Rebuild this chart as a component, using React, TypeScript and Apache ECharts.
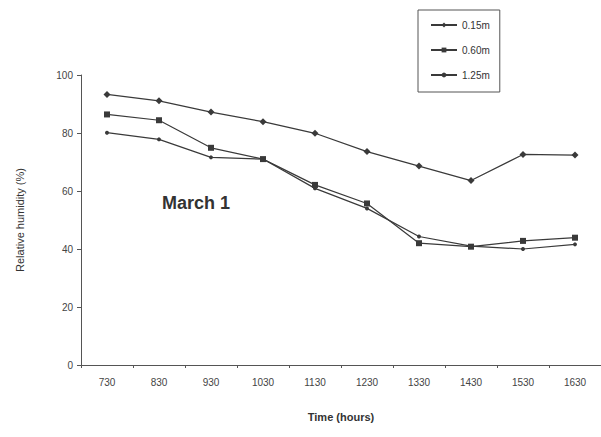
import React, { useEffect, useRef } from "react";
import * as echarts from "echarts";

const categories = ["730", "830", "930", "1030", "1130", "1230", "1330", "1430", "1530", "1630"];
const seriesNames = ["0.15m", "0.60m", "1.25m"];
const rh015 = [93.3, 91.1, 87.2, 83.9, 79.9, 73.6, 68.6, 63.6, 72.6, 72.4];
const rh060 = [86.4, 84.4, 74.9, 71.0, 62.1, 55.7, 42.0, 40.8, 42.8, 43.9];
const rh125 = [80.1, 77.8, 71.6, 71.0, 60.9, 54.0, 44.3, 41.0, 40.0, 41.6];
const yTicks = [0, 20, 40, 60, 80, 100];

export default function App() {
  const ref = useRef<HTMLDivElement>(null);
  useEffect(() => {
    if (!ref.current) return;
    const chart = echarts.init(ref.current, null, { renderer: "svg" });
    const lineColor = "#3a3a3a";
    const font = "Liberation Sans, Arial, sans-serif";
    const mk = (name: string, data: number[], symbol: string, size: number) => ({
      name,
      type: "line",
      data,
      symbol,
      symbolSize: size,
      showSymbol: true,
      lineStyle: { color: lineColor, width: 1.2 },
      itemStyle: { color: lineColor },
      z: 3,
    });
    chart.setOption({
      animation: false,
      backgroundColor: "#ffffff",
      textStyle: { fontFamily: font },
      grid: { left: 81, right: -5, top: 75, bottom: 72, containLabel: false },
      legend: {
        orient: "vertical",
        left: 418,
        top: 10,
        data: seriesNames,
        borderColor: "#555",
        borderWidth: 1,
        padding: [10, 10, 12, 12],
        itemGap: 15,
        itemWidth: 26,
        itemHeight: 6,
        textStyle: { fontSize: 10, color: "#333", fontFamily: font },
      },
      xAxis: {
        type: "category",
        data: categories,
        boundaryGap: true,
        name: "Time (hours)",
        nameLocation: "middle",
        nameGap: 46,
        nameTextStyle: { fontSize: 11, fontWeight: "bold", color: "#333", fontFamily: font },
        axisLine: { lineStyle: { color: "#555", width: 1 } },
        axisTick: { show: true, length: 3, lineStyle: { color: "#555" } },
        axisLabel: { fontSize: 10, color: "#444", margin: 12, fontFamily: font },
      },
      yAxis: {
        type: "value",
        min: 0,
        max: 100,
        interval: 20,
        name: "Relative humidity (%)",
        nameLocation: "middle",
        nameGap: 56,
        nameRotate: 90,
        nameTextStyle: { fontSize: 11, color: "#333", fontFamily: font },
        axisLine: { show: true, lineStyle: { color: "#555", width: 1 } },
        axisTick: { show: true, length: 4, lineStyle: { color: "#555" } },
        axisLabel: {
          fontSize: 10,
          color: "#444",
          margin: 8,
          fontFamily: font,
          formatter: (v: number) => (yTicks.includes(v) ? String(v) : ""),
        },
        splitLine: { show: false },
      },
      series: [
        mk(seriesNames[0], rh015, "diamond", 7),
        mk(seriesNames[1], rh060, "rect", 6),
        mk(seriesNames[2], rh125, "circle", 4),
      ],
      graphic: [
        {
          type: "text",
          left: 162,
          top: 194,
          style: {
            text: "March 1",
            fontSize: 18,
            fontWeight: "bold",
            fill: "#333",
            fontFamily: font,
          },
        },
      ],
    });
    return () => chart.dispose();
  }, []);
  return (
    <div
      ref={ref}
      style={{ position: "absolute", left: 0, top: 0, width: 601, height: 437, background: "#fff" }}
    />
  );
}
